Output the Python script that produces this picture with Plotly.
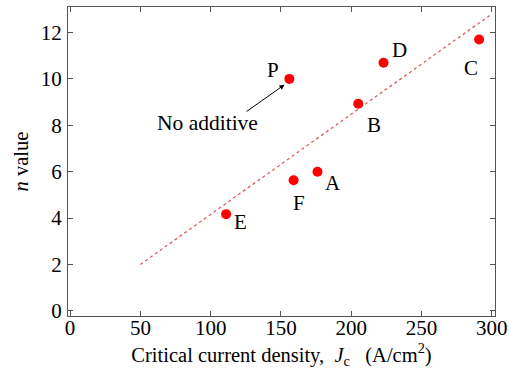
import plotly.graph_objects as go

# Data
samples = ["P", "D", "C", "B", "A", "F", "E"]
jc = [156, 223, 291, 205, 176, 159, 111]
n_value = [10.0, 10.7, 11.7, 8.93, 6.0, 5.63, 4.17]

fit_x = [50, 300]
fit_y = [2.0, 12.8]

label_x = [144.5, 234.5, 285.5, 216, 187, 162.5, 121]
label_y = [10.38, 11.25, 10.45, 8.0, 5.5, 4.64, 3.84]

x_ticks = [0, 50, 100, 150, 200, 250, 300]
y_ticks = [0, 2, 4, 6, 8, 10, 12]

FONT = "Liberation Serif, Times New Roman, Times, serif"

fig = go.Figure()
fig.add_trace(go.Scatter(x=fit_x, y=fit_y, mode="lines",
                         line=dict(color="#e05a5a", width=1.3, dash="dot"),
                         hoverinfo="skip", showlegend=False))
fig.add_trace(go.Scatter(x=jc, y=n_value, mode="markers",
                         marker=dict(color="#ff0000", size=10),
                         showlegend=False))

for s, lx, ly in zip(samples, label_x, label_y):
    fig.add_annotation(x=lx, y=ly, text=s, showarrow=False,
                       font=dict(family=FONT, size=21, color="black"))

fig.add_annotation(x=98, y=8.09, text="No additive", showarrow=False,
                   font=dict(family=FONT, size=21.5, color="black"))
fig.add_annotation(x=152.5, y=9.75, ax=124.5, ay=8.55,
                   xref="x", yref="y", axref="x", ayref="y",
                   text="", showarrow=True, arrowhead=2, arrowsize=1,
                   arrowwidth=1, arrowcolor="black", standoff=0)

axis_common = dict(showline=True, linecolor="#555555", linewidth=1,
                   mirror="ticks", ticks="inside", ticklen=5,
                   tickcolor="#555555", showgrid=False, zeroline=False,
                   tickfont=dict(family=FONT, size=21, color="black"))

fig.update_xaxes(range=[-1.5, 302.3], tickvals=x_ticks, automargin=False,
                 ticklabelstandoff=-7,
                 title=dict(text="Critical current density,&nbsp;&nbsp;<i>J</i><sub>c</sub>&nbsp;&nbsp;&nbsp;(A/cm<sup>2</sup>)",
                            font=dict(family=FONT, size=20.5, color="black"),
                            standoff=1),
                 **axis_common)
fig.update_yaxes(range=[-0.22, 13.1], tickvals=y_ticks, automargin=False,
                 ticklabelstandoff=1,
                 title=dict(text="<i>n</i> value",
                            font=dict(family=FONT, size=20.5, color="black"),
                            standoff=6),
                 **axis_common)

fig.update_layout(width=510, height=373,
                  margin=dict(l=68, r=15, t=7, b=57),
                  plot_bgcolor="white", paper_bgcolor="white")

fig.write_html("out.html", config={"displayModeBar": False},
               post_script="document.body.style.margin='0';document.body.style.overflow='hidden';")
